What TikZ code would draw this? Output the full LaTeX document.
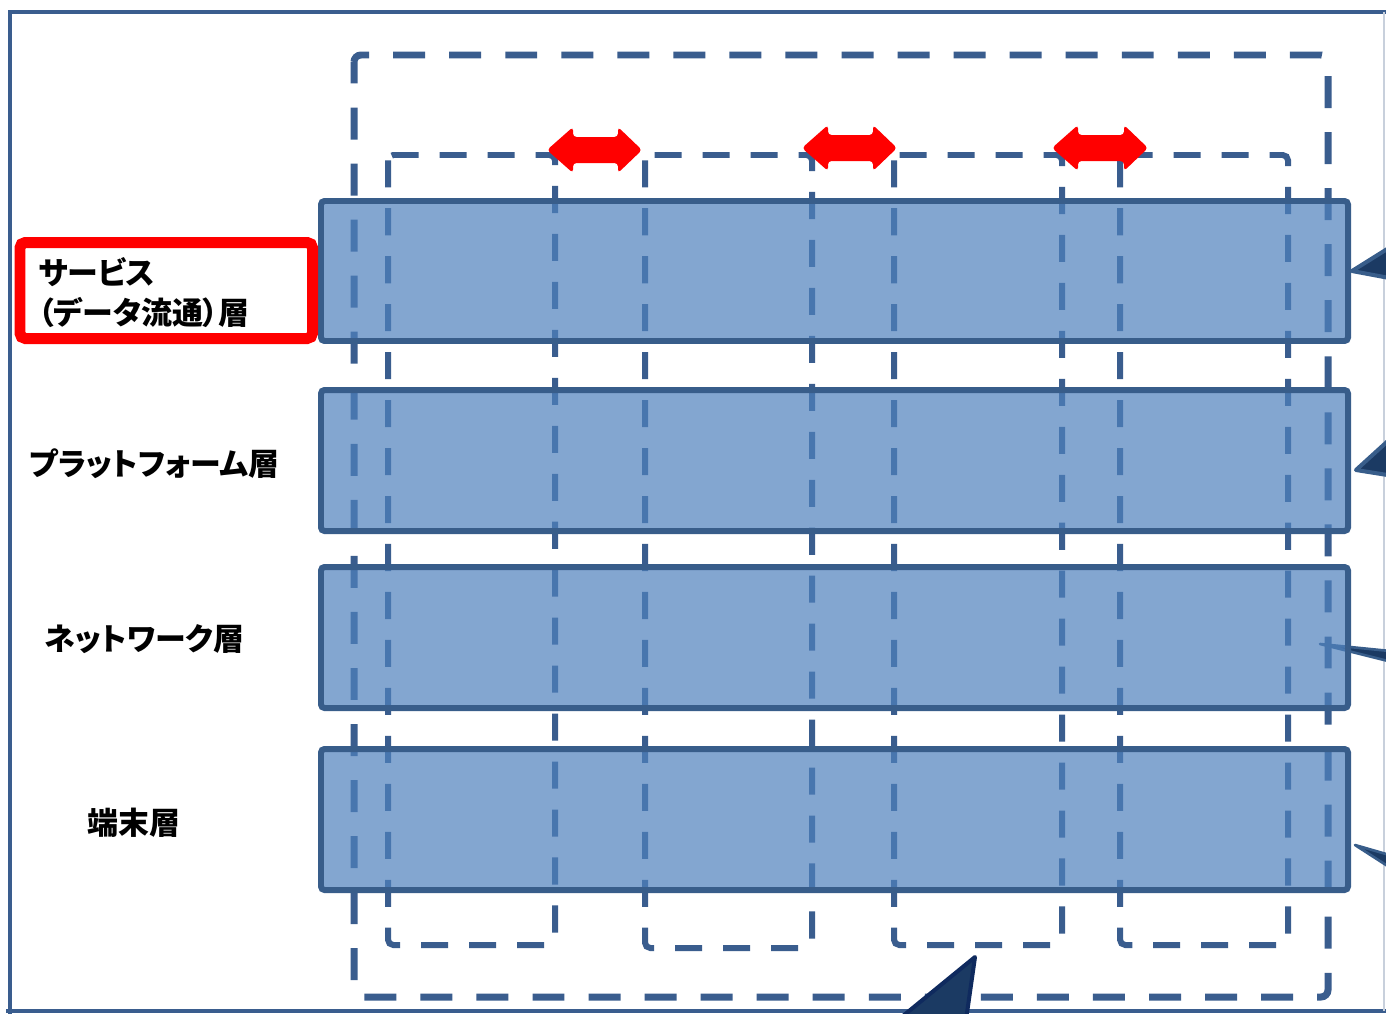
\documentclass[tikz,border=0pt]{standalone}
\usepackage{fontspec}
\newfontfamily\jp[RawFeature=+palt]{Noto Sans CJK JP}
\definecolor{frameblue}{HTML}{3A5D8E}
\definecolor{layerfill}{HTML}{4F81BD}
\definecolor{layerdraw}{HTML}{385D8A}
\definecolor{navy}{HTML}{1B3A63}
\definecolor{navydark}{HTML}{0F2A5E}
\definecolor{arrowred}{HTML}{FF0000}
\definecolor{edgegray}{HTML}{C8D0DC}
\begin{document}
\begin{tikzpicture}[x=0.02cm,y=-0.02cm,
  outerdash/.style={draw=frameblue, line width=3.98pt, dash pattern=on 18.2pt off 13.7pt, dash phase=6pt, rounded corners=4pt},
  innerdash/.style={draw=frameblue, line width=3.41pt, dash pattern=on 15.4pt off 11.9pt, rounded corners=3pt},
  layer/.style={fill=layerfill, fill opacity=0.7, draw=layerdraw, draw opacity=1, line width=3.41pt, rounded corners=2pt},
  pointer/.style={fill=navy, draw=layerdraw, line width=2.3pt, line join=round},
  redarrow/.style={fill=arrowred, rounded corners=2pt},
  lbl/.style={font=\jp\bfseries\fontsize{17.6pt}{22.8pt}\selectfont, anchor=west, inner sep=0pt, align=left, text=black}
]
\useasboundingbox (0,0) rectangle (1386,1014);
\clip (0,0) rectangle (1386,1014);
\fill[white] (0,0) rectangle (1386,1014);

% outer frame
\draw[frameblue, line width=2.7pt] (10,1020) -- (10,12) -- (1395,12);
\draw[frameblue, line width=2.7pt] (6,1011) -- (1395,1011);
\draw[edgegray, line width=1pt] (1384,12) -- (1384,1011);

% dashed groupings
\draw[outerdash] (354,55) rectangle (1328,997);
\draw[innerdash] (388,155) rectangle (555,945);
\draw[innerdash] (645,155) rectangle (812,948);
\draw[innerdash] (894,155) rectangle (1062,945);
\draw[innerdash] (1120,155) rectangle (1288,945);

% callout pointers (clipped)
\filldraw[pointer] (1352,271) -- (1400,241) -- (1400,280) -- cycle;
\filldraw[pointer] (1356,470) -- (1400,430) -- (1400,477) -- cycle;
\filldraw[pointer, line width=1.5pt] (1320,644) -- (1400,652) -- (1400,664) -- cycle;
\filldraw[pointer, line width=1.5pt] (1355,845) -- (1400,858) -- (1400,874) -- cycle;

% layers
\draw[layer] (321,201) rectangle (1348,341);
\draw[layer] (321,390) rectangle (1348,531);
\draw[layer] (321,567) rectangle (1348,708);
\draw[layer] (321,749) rectangle (1348,890);

% bottom callout pointer
\filldraw[fill=navy, draw=navydark, line width=2.3pt, line join=round] (975,957) -- (898,1020) -- (966,1020) -- cycle;

% red double arrows
\foreach \L/\R/\C in {547/642/150, 802/897/148, 1052/1148/148}{
  \fill[redarrow] (\L,\C) -- (\L+26,\C-23) -- (\L+26,\C-13) -- (\R-24,\C-13) -- (\R-24,\C-23) -- (\R,\C)
    -- (\R-24,\C+23) -- (\R-24,\C+13) -- (\L+26,\C+13) -- (\L+26,\C+23) -- cycle;
}

% labels
\draw[arrowred, line width=6.26pt, rounded corners=3pt] (20,242.5) rectangle (312.5,338.5);
\node[lbl] (svc) at (38,293) {サービス\\（データ流通）層};
\node[lbl] (plat) at (29,464) {プラットフォーム層};
\node[lbl] (net) at (44,639) {ネットワーク層};
\node[lbl] (term) at (87,823) {端末層};
\end{tikzpicture}
\end{document}
